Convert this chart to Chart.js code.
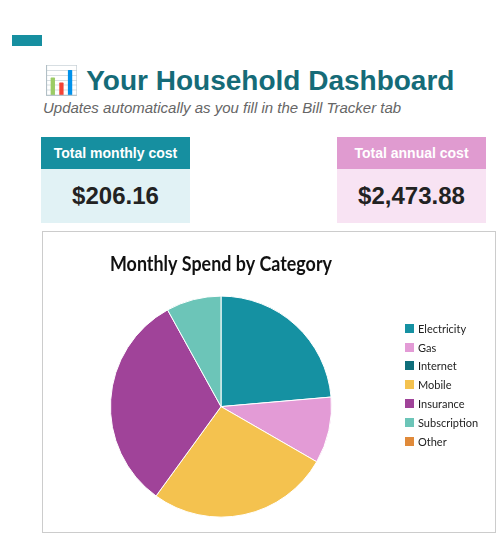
<!DOCTYPE html>
<html lang="en">
<head>
<meta charset="UTF-8" />
<title>Household Dashboard</title>
<script src="https://cdn.jsdelivr.net/npm/chart.js"></script>
<style>
body { margin: 0; width: 500px; height: 540px; position: relative; background: #fff; font-family: 'Liberation Sans', Arial, sans-serif; }
.tab { position: absolute; left: 12px; top: 35px; width: 30px; height: 11px; background: #168fa0; }
h1 { position: absolute; left: 44px; top: 64px; margin: 0; font-size: 28px; font-weight: bold; color: #156b78; white-space: nowrap; }
.sub { position: absolute; left: 43px; top: 99px; font-size: 15px; font-style: italic; color: #666; white-space: nowrap; }
.card { position: absolute; top: 137px; width: 149px; }
.card .hd { height: 32px; line-height: 32px; text-align: center; color: #fff; font-weight: bold; font-size: 14px; }
.card .val { height: 54px; line-height: 54px; text-align: center; font-weight: bold; font-size: 24px; color: #222; }
.m { left: 41px; } .m .hd { background: #168fa0; } .m .val { background: #e1f2f5; }
.a { left: 337px; } .a .hd { background: #e09bd0; } .a .val { background: #f8e3f3; }
.box { position: absolute; left: 42px; top: 231px; width: 452px; height: 300px; border: 1px solid #ccc; }
canvas { position: absolute; left: 0; top: 0; }
#legend { position: absolute; left: 362px; top: 87px; font-family: Lato, sans-serif; font-size: 11px; color: #222; }
#legend div { height: 18.8px; display: flex; align-items: center; }
#legend span { display: inline-block; width: 9px; height: 9px; margin-right: 4px; }
</style>
</head>
<body>
<div class="tab"></div>
<h1>📊 Your Household Dashboard</h1>
<div class="sub">Updates automatically as you fill in the Bill Tracker tab</div>
<div class="card m"><div class="hd">Total monthly cost</div><div class="val">$206.16</div></div>
<div class="card a"><div class="hd">Total annual cost</div><div class="val">$2,473.88</div></div>
<div class="box">
  <canvas id="pie" width="452" height="300"></canvas>
  <div id="legend"></div>
</div>
<script>
const categories = ['Electricity', 'Gas', 'Internet', 'Mobile', 'Insurance', 'Subscription', 'Other'];
const spend = [48.7, 20.0, 0, 55.0, 65.9, 16.56, 0];
const colors = ['#1591a2', '#e39bd6', '#0f6e7a', '#f4c24f', '#a04399', '#6cc5b8', '#e08a3a'];

const legend = document.getElementById('legend');
categories.forEach((c, i) => {
  legend.innerHTML += `<div><span style="background:${colors[i]}"></span>${c}</div>`;
});

new Chart(document.getElementById('pie'), {
  type: 'pie',
  data: {
    labels: categories,
    datasets: [{ data: spend, backgroundColor: colors, borderColor: '#fff', borderWidth: 1 }]
  },
  options: {
    responsive: false,
    animation: false,
    layout: { padding: { left: 67, right: 163, top: 0, bottom: 12 } },
    plugins: {
      legend: { display: false },
      tooltip: { enabled: false },
      title: {
        display: true,
        text: 'Monthly Spend by Category',
        color: '#111',
        font: { family: 'Lato', size: 21, weight: 'bold' },
        padding: { top: 20, bottom: 16 }
      }
    }
  }
});
</script>
</body>
</html>
